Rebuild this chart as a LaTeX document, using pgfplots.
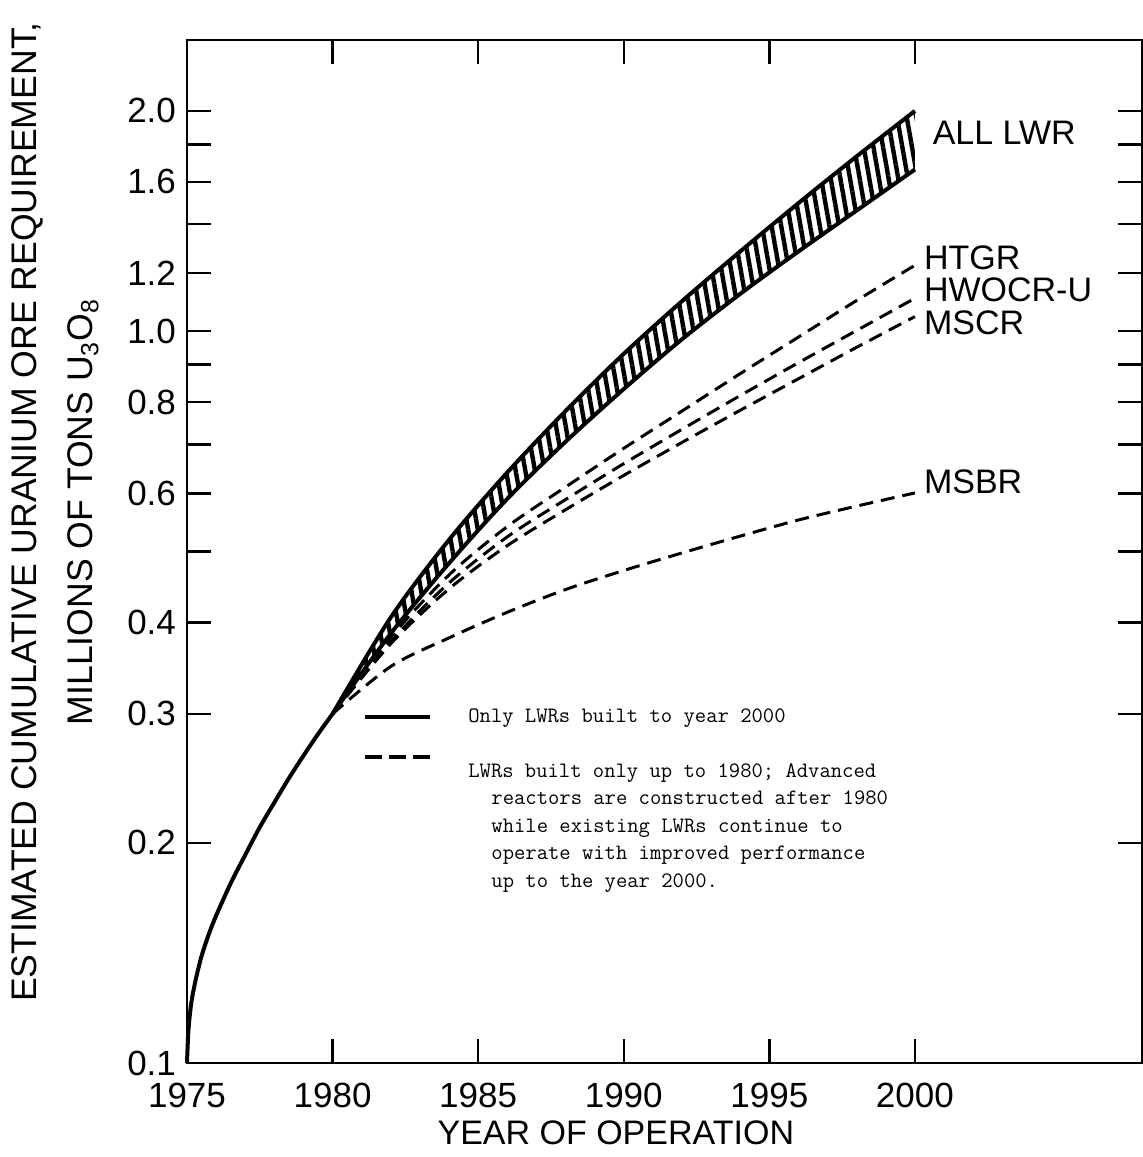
\documentclass[border=0pt]{standalone}
\usepackage{fontspec}
\setmainfont{Liberation Sans}
\usepackage{pgfplots}
\pgfplotsset{compat=1.18}
\usetikzlibrary{patterns.meta}

\begin{document}
\begin{tikzpicture}
\path[use as bounding box] (-93.5pt,-47pt) rectangle (478pt,531.5pt);
\begin{axis}[
  at={(0,0)}, anchor=south west,
  width=477.5pt, height=511.5pt, scale only axis,
  ymode=log, xmin=1975, xmax=2007.8, ymin=0.1, ymax=2.5,
  xtick={1975,1980,1985,1990,1995,2000},
  xticklabels={1975,1980,1985,1990,1995,2000},
  ytick={0.1,0.2,0.3,0.4,0.5,0.6,0.7,0.8,0.9,1.0,1.2,1.4,1.6,1.8,2.0},
  yticklabels={0.1,0.2,0.3,0.4,{},0.6,{},0.8,{},1.0,1.2,{},1.6,{},2.0},
  tick align=inside,
  major tick length=12pt,
  minor tick length=0pt,
  axis line style={line width=1.4pt},
  every tick/.style={black, line width=1.2pt},
  ticklabel style={font=\fontsize{17.5}{20}\selectfont},
  /pgf/number format/assume math mode=true,
  xticklabel style={yshift=-9pt, inner sep=1pt},
  yticklabel style={xshift=-2pt},
  xlabel={YEAR OF OPERATION},
  xlabel style={at={(rel axis cs:0.449,-0.068)}, anchor=center, inner sep=0pt, font=\fontsize{17}{20}\selectfont},
  ylabel={ESTIMATED CUMULATIVE URANIUM ORE REQUIREMENT,\\MILLIONS OF TONS U\textsubscript{3}O\textsubscript{8}},
  ylabel style={at={(rel axis cs:-0.138,0.5386)}, anchor=center, align=center, font=\fontsize{17.8}{28}\selectfont},
  clip=false,
]
% ALL LWR band fill (upper edge, then lower edge reversed)
\addplot[draw=none, pattern={Lines[angle=100, distance=4.75pt, line width=2.2pt]}] coordinates {
  (1980,0.300) (1982,0.4064) (1984,0.5188) (1986,0.6412) (1988,0.7780) (1990,0.9312)
  (1992,1.0990) (1994,1.2853) (1996,1.4962) (1998,1.7338) (2000,2.000)
  (2000,1.6634) (1998,1.4622) (1996,1.2853) (1994,1.1246) (1992,0.9750) (1990,0.8337)
  (1988,0.7063) (1986,0.5902) (1984,0.4819) (1982,0.3864) (1980,0.300)} -- cycle;
% LWR curve before 1980
\addplot[black, line width=2pt, smooth] coordinates {
  (1975,0.100) (1975.05,0.111) (1975.15,0.121) (1975.3,0.130) (1975.5,0.140)
  (1975.75,0.150) (1976,0.159) (1976.5,0.176) (1977,0.1925) (1977.5,0.210)
  (1978,0.227) (1978.5,0.245) (1979,0.263) (1979.5,0.2815) (1980,0.300)};
% ALL LWR band edges
\addplot[black, line width=2pt, smooth] coordinates {
  (1980,0.300) (1982,0.4064) (1984,0.5188) (1986,0.6412) (1988,0.7780) (1990,0.9312)
  (1992,1.0990) (1994,1.2853) (1996,1.4962) (1998,1.7338) (2000,2.000)};
\addplot[black, line width=2pt, smooth] coordinates {
  (1980,0.300) (1982,0.3864) (1984,0.4819) (1986,0.5902) (1988,0.7063) (1990,0.8337)
  (1992,0.9750) (1994,1.1246) (1996,1.2853) (1998,1.4622) (2000,1.6634)};
% advanced reactors (HTGR, HWOCR-U, MSCR, MSBR)
\addplot[black, line width=1.5pt, dash pattern=on 7pt off 4pt, smooth] coordinates {
  (1980,0.300) (1982,0.3819) (1984,0.4645) (1986,0.5408) (1988,0.6124) (1990,0.6918)
  (1992,0.7780) (1994,0.8750) (1996,0.9817) (1998,1.1015) (2000,1.2303)};
\addplot[black, line width=1.5pt, dash pattern=on 7pt off 4pt, smooth] coordinates {
  (1980,0.300) (1982,0.3767) (1984,0.4529) (1986,0.5236) (1988,0.5888) (1990,0.6592)
  (1992,0.7345) (1994,0.8166) (1996,0.9057) (1998,1.0023) (2000,1.1092)};
\addplot[black, line width=1.5pt, dash pattern=on 7pt off 4pt, smooth] coordinates {
  (1980,0.300) (1982,0.3741) (1984,0.4446) (1986,0.5093) (1988,0.5702) (1990,0.6353)
  (1992,0.7047) (1994,0.7798) (1996,0.8610) (1998,0.9506) (2000,1.0471)};
\addplot[black, line width=1.5pt, dash pattern=on 7pt off 4pt, smooth] coordinates {
  (1980,0.300) (1982,0.3483) (1984,0.3811) (1986,0.4130) (1988,0.4436) (1990,0.4710)
  (1992,0.4977) (1994,0.5248) (1996,0.5521) (1998,0.5768) (2000,0.6012)};
% curve labels
\node[anchor=west, font=\fontsize{17}{20}\selectfont, inner sep=0pt] at (axis cs:2000.6,1.866) {ALL LWR};
\node[anchor=west, font=\fontsize{17}{20}\selectfont, inner sep=0pt] at (axis cs:2000.3,1.259) {HTGR};
\node[anchor=west, font=\fontsize{17}{20}\selectfont, inner sep=0pt] at (axis cs:2000.3,1.139) {HWOCR-U};
\node[anchor=west, font=\fontsize{17}{20}\selectfont, inner sep=0pt] at (axis cs:2000.3,1.026) {MSCR};
\node[anchor=west, font=\fontsize{17}{20}\selectfont, inner sep=0pt] at (axis cs:2000.3,0.622) {MSBR};
% legend
\draw[line width=2pt] (rel axis cs:0.186,0.338) -- (rel axis cs:0.254,0.338);
\draw[line width=2pt, dash pattern=on 8.5pt off 3.5pt] (rel axis cs:0.186,0.2991) -- (rel axis cs:0.254,0.2991);
\node[anchor=west, inner sep=0pt, font=\ttfamily\fontsize{11}{13.75}\selectfont] at (rel axis cs:0.2942,0.3372) {Only LWRs built to year 2000};
\node[anchor=north west, inner sep=0pt, align=left, font=\ttfamily\fontsize{11}{13.75}\selectfont] at (rel axis cs:0.2942,0.2933) {LWRs built only up to 1980; Advanced\\
\hspace*{1.05em}reactors are constructed after 1980\\
\hspace*{1.05em}while existing LWRs continue to\\
\hspace*{1.05em}operate with improved performance\\
\hspace*{1.05em}up to the year 2000.};
\end{axis}
\end{tikzpicture}
\end{document}
